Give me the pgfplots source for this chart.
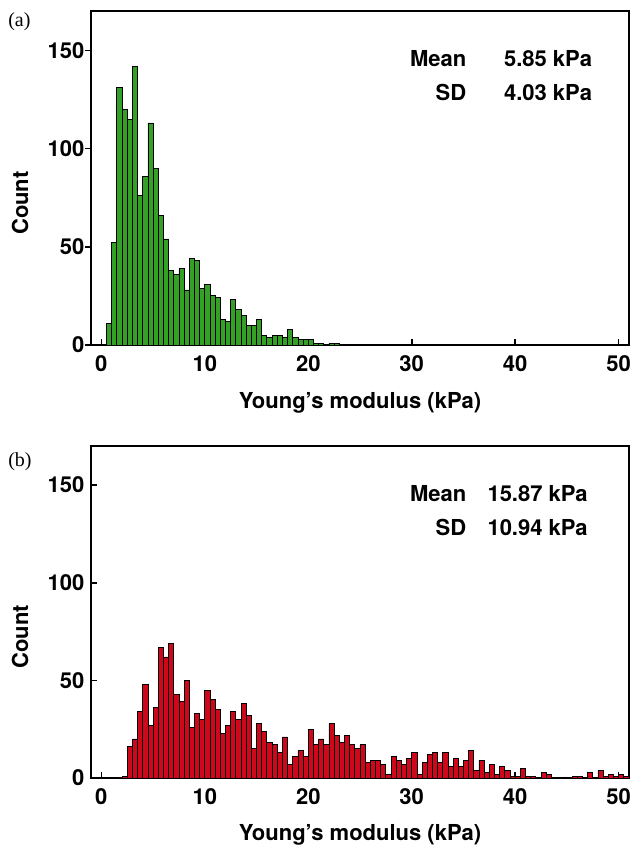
\documentclass[border=0pt]{standalone}
\usepackage{fontspec}
\setmainfont{TeX Gyre Heros}
\newfontfamily\seriffont{Liberation Serif}
\usepackage{pgfplots}
\pgfplotsset{compat=1.18}
\definecolor{barGreen}{RGB}{52,160,38}
\definecolor{barRed}{RGB}{206,8,26}

\pgfplotsset{
  hist/.style={
    scale only axis, width=403.5pt,
    xmin=-1, xmax=51, ymin=0, ymax=170,
    xtick={0,10,...,50}, ytick={0,50,100,150},
    axis line style={line width=1.2pt},
    major tick style={line width=1.2pt, black},
    xtick pos=left, ytick pos=left,
    tick align=inside, major tick length=4.5pt,
    /pgf/number format/assume math mode=true,
    tick label style={font=\fontsize{16.5}{19}\selectfont\bfseries},
    xticklabel style={yshift=-4.5pt},
    yticklabel style={xshift=-1.5pt},
    xlabel={Young’s modulus (kPa)},
    ylabel={Count},
    label style={font=\fontsize{16.5}{19}\selectfont\bfseries},
    xlabel style={at={(axis description cs:0.5,-0.1886)}, anchor=base},
    ylabel style={at={(axis description cs:-0.132,0.425)}, anchor=center},
  },
}
\tikzset{stat/.style={font=\fontsize{16.5}{19}\selectfont\bfseries, inner sep=0pt}}

\begin{document}
\begin{tikzpicture}
% ---------- (a)
\begin{axis}[hist, height=250.5pt, at={(68.25pt,-258.75pt)}, anchor=south west,
  ytick style={xshift=-4.5pt}]
\addplot[ybar interval, fill=barGreen, draw=black, line width=0.6pt] coordinates {
(0.5,11) (1.0,52) (1.5,131) (2.0,120) (2.5,115) (3.0,142) (3.5,76) (4.0,86)
(4.5,113) (5.0,90) (5.5,66) (6.0,54) (6.5,38) (7.0,36) (7.5,39) (8.0,28)
(8.5,44) (9.0,43) (9.5,29) (10.0,31) (10.5,25) (11.0,24) (11.5,13) (12.0,12)
(12.5,23) (13.0,18) (13.5,15) (14.0,10) (14.5,10) (15.0,13) (15.5,5) (16.0,4)
(16.5,5) (17.0,5) (17.5,4) (18.0,8) (18.5,4) (19.0,3) (19.5,3) (20.0,3)
(20.5,1) (21.0,1) (21.5,0) (22.0,1) (22.5,1) (23.0,1)
};
\node[stat, anchor=base east] at (axis cs:35.3,141.8) {Mean};
\node[stat, anchor=base west] at (axis cs:38.9,141.8) {5.85 kPa};
\node[stat, anchor=base east] at (axis cs:35.3,124.4) {SD};
\node[stat, anchor=base west] at (axis cs:38.9,124.4) {4.03 kPa};
\end{axis}
% ---------- (b)
\begin{axis}[hist, height=249pt, at={(68.25pt,-583.5pt)}, anchor=south west]
\addplot[ybar interval, fill=barRed, draw=black, line width=0.6pt] coordinates {
(2.0,1) (2.5,16) (3.0,20) (3.5,34) (4.0,48) (4.5,27) (5.0,36) (5.5,67)
(6.0,62) (6.5,69) (7.0,43) (7.5,39) (8.0,50) (8.5,26) (9.0,33) (9.5,30)
(10.0,45) (10.5,40) (11.0,35) (11.5,23) (12.0,27) (12.5,34) (13.0,30) (13.5,38)
(14.0,32) (14.5,15) (15.0,28) (15.5,24) (16.0,18) (16.5,17) (17.0,13) (17.5,21)
(18.0,7) (18.5,11) (19.0,14) (19.5,11) (20.0,25) (20.5,17) (21.0,20) (21.5,17)
(22.0,28) (22.5,22) (23.0,18) (23.5,22) (24.0,17) (24.5,15) (25.0,17) (25.5,8)
(26.0,9) (26.5,9) (27.0,7) (27.5,2) (28.0,11) (28.5,9) (29.0,7) (29.5,10)
(30.0,13) (30.5,2) (31.0,8) (31.5,12) (32.0,13) (32.5,8) (33.0,13) (33.5,6)
(34.0,10) (34.5,6) (35.0,9) (35.5,14) (36.0,4) (36.5,9) (37.0,3) (37.5,7)
(38.0,2) (38.5,6) (39.0,4) (39.5,1) (40.0,1) (40.5,5) (41.0,1) (41.5,1)
(42.0,0) (42.5,3) (43.0,2) (43.5,0) (44.0,0) (44.5,0) (45.0,0) (45.5,1)
(46.0,1) (46.5,0) (47.0,3) (47.5,0) (48.0,4) (48.5,1) (49.0,2) (49.5,1)
(50.0,2) (50.5,1) (51.0,1)
};
\node[stat, anchor=base east] at (axis cs:35.3,141.8) {Mean};
\node[stat, anchor=base west] at (axis cs:37.3,141.8) {15.87 kPa};
\node[stat, anchor=base east] at (axis cs:35.3,124.4) {SD};
\node[stat, anchor=base west] at (axis cs:37.3,124.4) {10.94 kPa};
\end{axis}
\node[anchor=base west, inner sep=0pt, font=\seriffont\fontsize{15}{18}\selectfont] at (6pt,-19.5pt) {(a)};
\node[anchor=base west, inner sep=0pt, font=\seriffont\fontsize{15}{18}\selectfont] at (6pt,-349.5pt) {(b)};
\pgfresetboundingbox
\path[use as bounding box] (0pt,0pt) rectangle (476.25pt,-635.25pt);
\end{tikzpicture}
\end{document}
